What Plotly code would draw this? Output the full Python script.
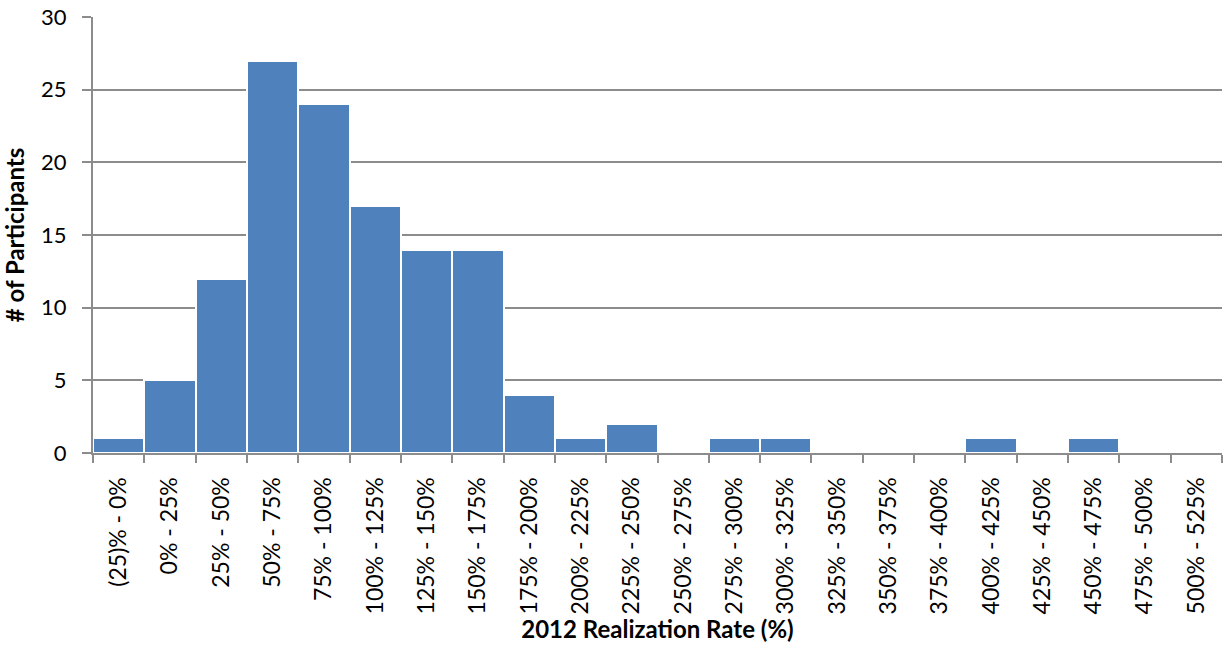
import plotly.graph_objects as go

categories = ["(25)% - 0%", "0% - 25%", "25% - 50%", "50% - 75%", "75% - 100%",
              "100% - 125%", "125% - 150%", "150% - 175%", "175% - 200%", "200% - 225%",
              "225% - 250%", "250% - 275%", "275% - 300%", "300% - 325%", "325% - 350%",
              "350% - 375%", "375% - 400%", "400% - 425%", "425% - 450%", "450% - 475%",
              "475% - 500%", "500% - 525%"]
participants = [1, 5, 12, 27, 24, 17, 14, 14, 4, 1, 2, 0, 1, 1, 0, 0, 0, 1, 0, 1, 0, 0]
y_ticks = [0, 5, 10, 15, 20, 25, 30]

FONT = "Lato, 'Open Sans', sans-serif"
GRID = "#8c8c8c"

fig = go.Figure(go.Bar(
    x=categories, y=participants,
    marker=dict(color="#4F81BD", line=dict(color="white", width=2)),
))

fig.update_layout(
    width=1226, height=648,
    margin=dict(l=93, r=4, t=17, b=195),
    paper_bgcolor="white", plot_bgcolor="white",
    bargap=0, showlegend=False,
    font=dict(family=FONT, color="black"),
)
fig.update_xaxes(
    type="category", tickangle=-90, tickson="boundaries",
    ticks="outside", ticklen=8, tickcolor=GRID, tickwidth=2,
    showline=True, linecolor=GRID, linewidth=2,
    tickfont=dict(size=23, family=FONT),
    ticklabelstandoff=13,
    title=dict(text="<b>2012 Realization Rate (%)</b>", font=dict(size=24, family=FONT), standoff=8),
    showgrid=False,
)
fig.update_yaxes(
    range=[0, 30], tickvals=y_ticks,
    ticks="outside", ticklen=9, tickcolor=GRID, tickwidth=2,
    showline=True, linecolor=GRID, linewidth=2,
    showgrid=True, gridcolor=GRID, gridwidth=1.5,
    tickfont=dict(size=22, family=FONT),
    ticklabelstandoff=11,
    title=dict(text="<b># of Participants</b>", font=dict(size=24, family=FONT), standoff=10),
    zeroline=False,
)

fig.write_html("out.html")
